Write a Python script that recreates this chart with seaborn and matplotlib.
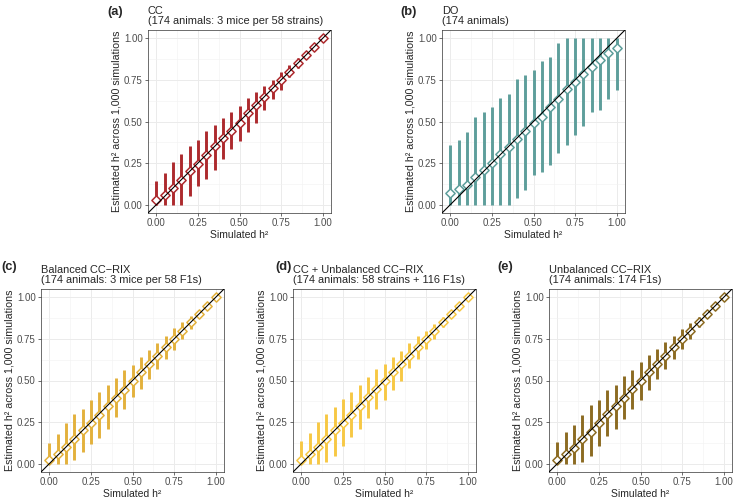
import numpy as np
import pandas as pd
import matplotlib
matplotlib.use('Agg')
import matplotlib.pyplot as plt
import seaborn as sns

# simulated heritability grid
sim_h2 = [0.00, 0.05, 0.10, 0.15, 0.20, 0.25, 0.30, 0.35, 0.40, 0.45, 0.50,
          0.55, 0.60, 0.65, 0.70, 0.75, 0.80, 0.85, 0.90, 0.95, 1.00]

# (a) CC
cc_mid = [0.03, 0.06, 0.10, 0.15, 0.20, 0.245, 0.30, 0.35, 0.40, 0.445, 0.49,
          0.55, 0.60, 0.65, 0.70, 0.75, 0.80, 0.85, 0.90, 0.95, 1.00]
cc_lo = [0.00, 0.00, 0.00, 0.00, 0.055, 0.11, 0.155, 0.21, 0.275, 0.335, 0.385,
         0.435, 0.49, 0.57, 0.635, 0.69, 0.77, 0.82, 0.88, 0.94, 0.995]
cc_hi = [0.14, 0.19, 0.255, 0.307, 0.35, 0.39, 0.445, 0.48, 0.52, 0.56, 0.595,
         0.64, 0.68, 0.715, 0.75, 0.80, 0.84, 0.88, 0.92, 0.96, 1.00]

# (b) DO
do_mid = [0.07, 0.095, 0.12, 0.165, 0.21, 0.25, 0.305, 0.345, 0.395, 0.44, 0.49,
          0.53, 0.585, 0.635, 0.695, 0.74, 0.785, 0.83, 0.87, 0.91, 0.94]
do_lo = [0.00, 0.00, 0.00, 0.00, 0.00, 0.00, 0.00, 0.00, 0.04, 0.09, 0.176,
         0.196, 0.236, 0.31, 0.357, 0.42, 0.475, 0.557, 0.567, 0.635, 0.687]
do_hi = [0.357, 0.39, 0.437, 0.525, 0.56, 0.59, 0.64, 0.665, 0.757, 0.778, 0.81,
         0.864, 0.89, 0.97, 1.00, 1.00, 1.00, 1.00, 1.00, 1.00, 1.00]

# (c) Balanced CC-RIX
bal_mid = [0.02, 0.06, 0.10, 0.15, 0.20, 0.245, 0.295, 0.345, 0.395, 0.445, 0.50,
           0.55, 0.60, 0.65, 0.70, 0.75, 0.80, 0.85, 0.90, 0.95, 1.00]
bal_lo = [0.00, 0.00, 0.00, 0.02, 0.07, 0.12, 0.157, 0.21, 0.28, 0.33, 0.40,
          0.45, 0.51, 0.57, 0.63, 0.685, 0.75, 0.81, 0.88, 0.94, 0.995]
bal_hi = [0.127, 0.18, 0.243, 0.30, 0.33, 0.385, 0.428, 0.474, 0.518, 0.564, 0.596,
          0.64, 0.685, 0.725, 0.77, 0.813, 0.85, 0.89, 0.92, 0.96, 1.00]

# (d) CC + Unbalanced CC-RIX
mix_mid = [0.025, 0.06, 0.10, 0.15, 0.20, 0.245, 0.295, 0.345, 0.40, 0.45, 0.50,
           0.55, 0.60, 0.65, 0.70, 0.75, 0.80, 0.85, 0.90, 0.95, 1.00]
mix_lo = [0.00, 0.00, 0.00, 0.012, 0.044, 0.104, 0.16, 0.21, 0.277, 0.33, 0.384,
          0.444, 0.50, 0.575, 0.63, 0.69, 0.75, 0.82, 0.88, 0.94, 0.995]
mix_hi = [0.135, 0.185, 0.25, 0.30, 0.34, 0.388, 0.43, 0.475, 0.52, 0.57, 0.60,
          0.64, 0.68, 0.725, 0.765, 0.80, 0.84, 0.88, 0.92, 0.96, 1.00]

# (e) Unbalanced CC-RIX
unb_mid = [0.02, 0.06, 0.095, 0.15, 0.19, 0.245, 0.30, 0.345, 0.395, 0.45, 0.50,
           0.55, 0.60, 0.65, 0.70, 0.75, 0.80, 0.85, 0.90, 0.95, 1.00]
unb_lo = [0.00, 0.00, 0.00, 0.01, 0.045, 0.105, 0.165, 0.21, 0.27, 0.33, 0.385,
          0.445, 0.51, 0.57, 0.63, 0.69, 0.75, 0.82, 0.88, 0.94, 0.995]
unb_hi = [0.13, 0.19, 0.235, 0.29, 0.35, 0.385, 0.44, 0.47, 0.525, 0.565, 0.61,
          0.655, 0.69, 0.73, 0.77, 0.81, 0.845, 0.88, 0.92, 0.96, 1.00]

panel_tags = ['(a)', '(b)', '(c)', '(d)', '(e)']
panel_titles = [
    'CC\n(174 animals: 3 mice per 58 strains)',
    'DO\n(174 animals)',
    'Balanced CC\u2212RIX\n(174 animals: 3 mice per 58 F1s)',
    'CC + Unbalanced CC\u2212RIX\n(174 animals: 58 strains + 116 F1s)',
    'Unbalanced CC\u2212RIX\n(174 animals: 174 F1s)',
]
panel_colors = ['#AD2A2E', '#5E9E9B', '#E3B13C', '#F7C844', '#8C6B22']
tick_vals = [0.0, 0.25, 0.5, 0.75, 1.0]
tick_labels = ['0.00', '0.25', '0.50', '0.75', '1.00']

sns.set_theme(style='white')
plt.rcParams['font.family'] = ['Liberation Sans', 'DejaVu Sans']

series = [(cc_mid, cc_lo, cc_hi), (do_mid, do_lo, do_hi),
          (bal_mid, bal_lo, bal_hi), (mix_mid, mix_lo, mix_hi),
          (unb_mid, unb_lo, unb_hi)]

# layout in pixels: axes (left, top), tag (left, vertical centre)
W, H = 734, 499
boxes = [(148, 30), (442, 30), (41, 289), (293, 289), (549, 289)]
tag_pos = [(107, 12), (400, 12), (1, 267), (275, 267), (497, 267)]
side = 183

fig = plt.figure(figsize=(W / 100, H / 100), dpi=100)

for i, (left, top) in enumerate(boxes):
    ax = fig.add_axes([left / W, (H - top - side) / H, side / W, side / H])
    mid, lo, hi = series[i]
    df = pd.DataFrame({'sim': sim_h2, 'est': mid, 'lo': lo, 'hi': hi})
    col = panel_colors[i]

    ax.vlines(df['sim'], df['lo'], df['hi'], color=col, linewidth=2.1, zorder=2)
    sns.scatterplot(data=df, x='sim', y='est', marker='D', s=22,
                    facecolor='white', edgecolor=col, linewidth=1.1,
                    ax=ax, zorder=3, legend=False)
    ax.axline((0, 0), slope=1, color='black', linewidth=0.8, zorder=4)

    ax.set_xlim(-0.05, 1.05)
    ax.set_ylim(-0.05, 1.05)
    ax.set_xticks(tick_vals)
    ax.set_xticklabels(tick_labels)
    ax.set_yticks(tick_vals)
    ax.set_yticklabels(tick_labels)
    ax.set_xticks([0.125, 0.375, 0.625, 0.875], minor=True)
    ax.set_yticks([0.125, 0.375, 0.625, 0.875], minor=True)
    ax.grid(which='major', color='#EBEBEB', linewidth=0.7, zorder=0)
    ax.grid(which='minor', color='#F2F2F2', linewidth=0.4, zorder=0)
    ax.set_axisbelow(True)
    ax.tick_params(which='major', direction='out', length=2.5, width=0.5,
                   color='#333333', labelsize=7, labelcolor='#4D4D4D', pad=1.2,
                   bottom=True, left=True)
    ax.tick_params(which='minor', length=0)
    for sp in ax.spines.values():
        sp.set_color('#333333')
        sp.set_linewidth(0.5)

    ax.set_xlabel('Simulated h\u00b2', fontsize=7.5, labelpad=1)
    ax.set_ylabel('Estimated h\u00b2 across 1,000 simulations', fontsize=7.7, labelpad=2)
    ax.set_title(panel_titles[i], fontsize=7.9, loc='left', pad=4,
                 linespacing=1.0)

    tx, ty = tag_pos[i]
    fig.text(tx / W, 1 - ty / H, panel_tags[i], fontsize=9.3,
             fontweight='bold', ha='left', va='center')

fig.savefig('out.png', dpi=100)
